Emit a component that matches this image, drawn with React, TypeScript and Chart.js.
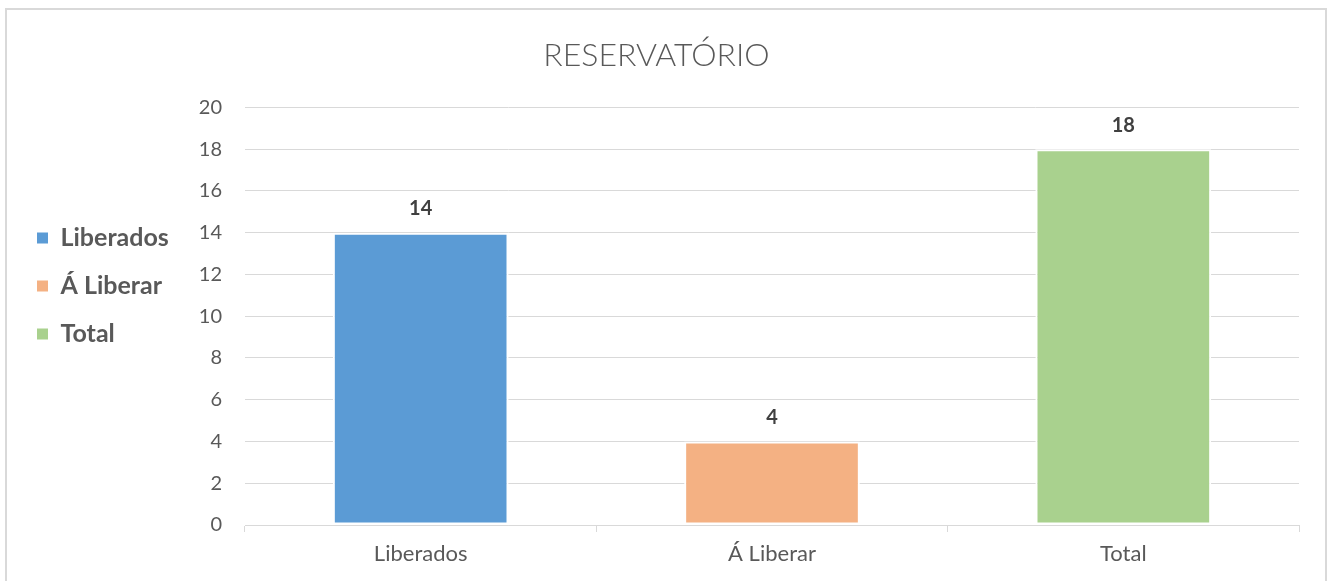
import React, { useEffect, useRef } from "react";
import { Chart, registerables } from "chart.js";

Chart.register(...registerables);

const categories = ["Liberados", "Á Liberar", "Total"];
const values = [14, 4, 18];
const barColors = ["#5B9BD5", "#F4B183", "#A9D18E"];
const yTicks = [0, 2, 4, 6, 8, 10, 12, 14, 16, 18, 20];
const titleText = "RESERVATÓRIO";

const FONT = "Lato, 'Open Sans', sans-serif";
const PAD_LEFT = 14;
const PAD_BOTTOM = 9;
const AREA_LEFT = 245;
const AREA_BOTTOM = 525;
const CANVAS_W = 1333;
const CANVAS_H = 581;

const framePlugin = {
  id: "frame",
  beforeDraw(chart: any) {
    const ctx = chart.ctx;
    ctx.save();
    ctx.fillStyle = "#ffffff";
    ctx.fillRect(0, 0, chart.width, chart.height);
    ctx.strokeStyle = "#D9D9D9";
    ctx.lineWidth = 2;
    ctx.strokeRect(6, 9, 1320, 620);
    ctx.restore();
  },
};

const valueLabelPlugin = {
  id: "valueLabels",
  afterDatasetsDraw(chart: any) {
    const ctx = chart.ctx;
    const meta = chart.getDatasetMeta(0);
    ctx.save();
    ctx.font = `bold 20px ${FONT}`;
    ctx.fillStyle = "#404040";
    ctx.textAlign = "center";
    ctx.textBaseline = "middle";
    meta.data.forEach((bar: any, i: number) => {
      ctx.fillText(String(values[i]), bar.x, bar.y - 24);
    });
    ctx.restore();
  },
};

export default function App() {
  const ref = useRef<HTMLCanvasElement | null>(null);

  useEffect(() => {
    if (!ref.current) return;
    const chart = new Chart(ref.current, {
      type: "bar",
      data: {
        labels: categories,
        datasets: [
          {
            data: values,
            backgroundColor: barColors,
            borderColor: "#ffffff",
            borderWidth: 2,
            borderSkipped: false,
            categoryPercentage: 1,
            barPercentage: 0.5,
          },
        ],
      },
      options: {
        responsive: false,
        animation: false,
        layout: { padding: { left: PAD_LEFT, right: CANVAS_W - 1299, top: 0, bottom: PAD_BOTTOM } },
        plugins: {
          title: {
            display: true,
            text: titleText,
            color: "#595959",
            font: { family: FONT, size: 32, weight: "300" as any },
            padding: { top: 36, bottom: 33 },
          },
          legend: {
            display: true,
            position: "left",
            align: "center",
            labels: {
              font: { family: FONT, size: 25, weight: "bold" },
              color: "#595959",
              boxWidth: 11,
              boxHeight: 11,
              padding: 23,
              generateLabels: () =>
                categories.map((c, i) => ({
                  text: c,
                  fillStyle: barColors[i],
                  strokeStyle: barColors[i],
                  lineWidth: 0,
                  hidden: false,
                  index: i,
                  datasetIndex: 0,
                  fontColor: "#595959",
                })),
            },
            onClick: () => {},
          },
          tooltip: { enabled: false },
        },
        scales: {
          x: {
            grid: {
              display: true,
              drawOnChartArea: false,
              drawTicks: true,
              tickLength: 7,
              color: "#D9D9D9",
              lineWidth: 1,
              offset: true,
            },
            border: { display: true, color: "#D9D9D9", width: 1 },
            ticks: {
              color: "#595959",
              font: { family: FONT, size: 22 },
              padding: 9,
            },
            afterFit: (s: any) => {
              s.height = CANVAS_H - PAD_BOTTOM - AREA_BOTTOM;
            },
          },
          y: {
            min: 0,
            max: 20,
            afterBuildTicks: (s: any) => {
              s.ticks = yTicks.map((v) => ({ value: v }));
            },
            grid: { color: "#D9D9D9", lineWidth: 1, drawTicks: false },
            border: { display: false },
            ticks: {
              color: "#595959",
              font: { family: FONT, size: 20 },
              padding: 23,
            },
            afterFit: (s: any) => {
              const lg = s.chart.legend;
              const lw = lg && lg.width ? lg.width : 0;
              s.width = AREA_LEFT - PAD_LEFT - lw;
            },
          },
        },
      },
      plugins: [framePlugin, valueLabelPlugin],
    });
    return () => chart.destroy();
  }, []);

  return (
    <div style={{ position: "fixed", left: 0, top: 0, width: CANVAS_W, height: CANVAS_H, background: "#fff" }}>
      <canvas ref={ref} width={CANVAS_W} height={CANVAS_H} />
    </div>
  );
}
